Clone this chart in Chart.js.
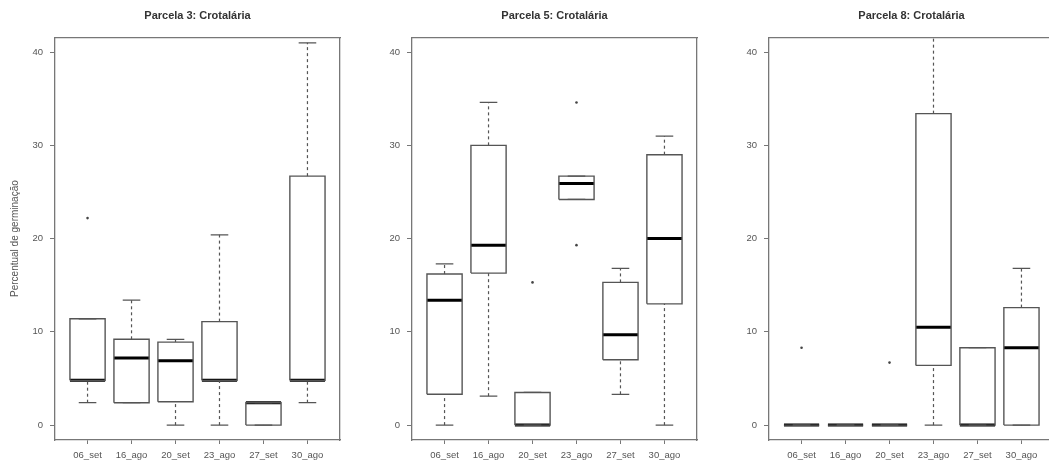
<!DOCTYPE html>
<html>
<head>
<meta charset="utf-8">
<script src="https://cdn.jsdelivr.net/npm/chart.js@4/dist/chart.umd.min.js"></script>
<style>
  html, body { margin: 0; padding: 0; background: #fff; overflow: hidden; width: 1049px; height: 465px; }
  .panel { position: absolute; top: 0; width: 350px; height: 465px; }
</style>
</head>
<body>
<div class="panel" style="left:0px"><canvas id="c1" width="350" height="465"></canvas></div>
<div class="panel" style="left:357px"><canvas id="c2" width="350" height="465"></canvas></div>
<div class="panel" style="left:714px"><canvas id="c3" width="350" height="465"></canvas></div>
<script>
// ---- data ----
const categories = ['06_set', '16_ago', '20_set', '23_ago', '27_set', '30_ago'];
const yTicks = [0, 10, 20, 30, 40];
const yLabel = 'Percentual de germinação';
const panelTitles = ['Parcela 3: Crotalária', 'Parcela 5: Crotalária', 'Parcela 8: Crotalária'];

// Parcela 3
const p3Low    = [2.4, 2.4, 0.0, 0.0, 0.0, 2.4];
const p3Q1     = [4.8, 2.4, 2.5, 4.8, 0.0, 4.8];
const p3Median = [4.8, 7.2, 6.9, 4.8, 2.4, 4.8];
const p3Q3     = [11.4, 9.2, 8.9, 11.1, 2.4, 26.7];
const p3High   = [11.4, 13.4, 9.2, 20.4, 2.4, 41.0];
const p3Outliers = [[22.2], [], [], [], [], []];

// Parcela 5
const p5Low    = [0.0, 3.1, 0.0, 24.2, 3.3, 0.0];
const p5Q1     = [3.3, 16.3, 0.0, 24.2, 7.0, 13.0];
const p5Median = [13.4, 19.3, 0.0, 25.9, 9.7, 20.0];
const p5Q3     = [16.2, 30.0, 3.5, 26.7, 15.3, 29.0];
const p5High   = [17.3, 34.6, 3.5, 26.7, 16.8, 31.0];
const p5Outliers = [[], [], [15.3], [34.6, 19.3], [], []];

// Parcela 8
const p8Low    = [0.0, 0.0, 0.0, 0.0, 0.0, 0.0];
const p8Q1     = [0.0, 0.0, 0.0, 6.4, 0.0, 0.0];
const p8Median = [0.0, 0.0, 0.0, 10.5, 0.0, 8.3];
const p8Q3     = [0.0, 0.0, 0.0, 33.4, 8.3, 12.6];
const p8High   = [0.0, 0.0, 0.0, 50.0, 8.3, 16.8];
const p8Outliers = [[8.3], [], [6.7], [], [], []];

// ---- build ----
const LINE = '#555';
const FRAME = '#777';
const FONT = "'Liberation Sans', Arial, sans-serif";

function seg(points, color, width, dash) {
  return {
    type: 'scatter', showLine: true, data: points,
    borderColor: color, borderWidth: width, borderDash: dash || [],
    pointRadius: 0, pointHoverRadius: 0, fill: false, tension: 0,
    borderCapStyle: 'butt'
  };
}

function buildDatasets(lo, q1, med, q3, hi, outs) {
  const ds = [];
  const hw = 0.4, cw = 0.2;
  const outPts = [];
  categories.forEach((c, k) => {
    const x = k + 1;
    // whiskers
    ds.push(seg([{x: x, y: q3[k]}, {x: x, y: hi[k]}], LINE, 1.2, [3, 3]));
    ds.push(seg([{x: x, y: lo[k]}, {x: x, y: q1[k]}], LINE, 1.2, [3, 3]));
    // staples
    ds.push(seg([{x: x - cw, y: hi[k]}, {x: x + cw, y: hi[k]}], LINE, 1.2));
    ds.push(seg([{x: x - cw, y: lo[k]}, {x: x + cw, y: lo[k]}], LINE, 1.2));
    // box
    ds.push(seg([
      {x: x - hw, y: q1[k]}, {x: x + hw, y: q1[k]},
      {x: x + hw, y: q3[k]}, {x: x - hw, y: q3[k]}, {x: x - hw, y: q1[k]}
    ], LINE, 1.4));
    // median
    ds.push(seg([{x: x - hw, y: med[k]}, {x: x + hw, y: med[k]}], '#000', 3));
    outs[k].forEach(v => outPts.push({x: x, y: v}));
  });
  ds.push({
    type: 'scatter', data: outPts, showLine: false,
    pointRadius: 1.3, pointBackgroundColor: '#444', pointBorderColor: '#444', pointBorderWidth: 0
  });
  return ds;
}

function makeChart(id, title, datasets, showYLabel) {
  new Chart(document.getElementById(id), {
    type: 'scatter',
    data: { datasets: datasets },
    options: {
      responsive: false,
      animation: false,
      devicePixelRatio: 1,
      events: [],
      layout: { padding: { left: 0, right: 10, top: 0, bottom: 0 } },
      plugins: {
        legend: { display: false },
        tooltip: { enabled: false },
        title: {
          display: true, text: title, fullSize: false,
          color: '#333', font: { family: FONT, size: 11, weight: 'bold' },
          padding: { top: 9, bottom: 15 }
        }
      },
      scales: {
        x: {
          type: 'linear', position: 'bottom', min: 0.26, max: 6.74,
          afterBuildTicks: s => { s.ticks = categories.map((c, i) => ({ value: i + 1 })); },
          afterFit: s => { s.height = 25; },
          ticks: {
            callback: v => categories[Math.round(v) - 1],
            color: '#555', font: { family: FONT, size: 9.5 }, padding: 6, maxRotation: 0, autoSkip: false
          },
          grid: { display: true, drawOnChartArea: false, drawTicks: true, tickLength: 4, color: FRAME, lineWidth: 1 },
          border: { display: true, color: FRAME, width: 1.3 }
        },
        x2: {
          type: 'linear', position: 'top', min: 0.26, max: 6.74,
          afterFit: s => { s.height = 0; },
          ticks: { display: false },
          grid: { display: false, drawTicks: false },
          border: { display: true, color: FRAME, width: 1.3 }
        },
        y: {
          type: 'linear', position: 'left', min: -1.6, max: 41.6,
          afterBuildTicks: s => { s.ticks = yTicks.map(v => ({ value: v })); },
          afterFit: s => { s.width = 55; },
          ticks: { color: '#555', font: { family: FONT, size: 9.5 }, padding: 7 },
          grid: { display: true, drawOnChartArea: false, drawTicks: true, tickLength: 5, color: FRAME, lineWidth: 1 },
          border: { display: true, color: FRAME, width: 1.3 },
          title: {
            display: showYLabel, text: yLabel, color: '#555',
            font: { family: FONT, size: 10 }, padding: { top: 9, bottom: 0 }
          }
        },
        y2: {
          type: 'linear', position: 'right', min: -1.6, max: 41.6,
          afterFit: s => { s.width = 0; },
          ticks: { display: false },
          grid: { display: false, drawTicks: false },
          border: { display: true, color: FRAME, width: 1.3 }
        }
      }
    }
  });
}

makeChart('c1', panelTitles[0], buildDatasets(p3Low, p3Q1, p3Median, p3Q3, p3High, p3Outliers), true);
makeChart('c2', panelTitles[1], buildDatasets(p5Low, p5Q1, p5Median, p5Q3, p5High, p5Outliers), false);
makeChart('c3', panelTitles[2], buildDatasets(p8Low, p8Q1, p8Median, p8Q3, p8High, p8Outliers), false);
</script>
</body>
</html>
